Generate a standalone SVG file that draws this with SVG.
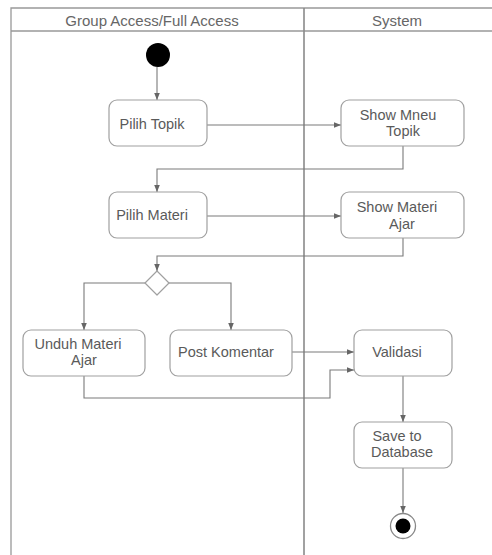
<svg xmlns="http://www.w3.org/2000/svg" width="492" height="555" viewBox="0 0 492 555">
  <defs>
    <marker id="arrow" viewBox="0 0 10 10" refX="10" refY="5" markerWidth="7" markerHeight="7" markerUnits="userSpaceOnUse" orient="auto">
      <path d="M0,1 L10,5 L0,9 Z" fill="#666"/>
    </marker>
    <style>
      .lane { fill: none; stroke: #999; stroke-width: 1.3; }
      .divider { stroke: #8a8a8a; stroke-width: 1.6; }
      .title { font-family: "Liberation Sans", Arial, sans-serif; font-size: 15px; fill: #666; text-anchor: middle; }
      .box { fill: #fff; stroke: #a0a0a0; stroke-width: 1.2; }
      .label { font-family: "Liberation Sans", Arial, sans-serif; font-size: 14.5px; fill: #5a5a5a; text-anchor: middle; }
      .flow { fill: none; stroke: #7a7a7a; stroke-width: 1.1; marker-end: url(#arrow); }
    </style>
  </defs>

  <rect width="492" height="555" fill="#fff"/>

  <!-- swimlane frame -->
  <g id="lanes">
    <path class="lane" d="M11,560 L11,8 L500,8"/>
    <line class="lane" x1="11" y1="31" x2="500" y2="31" stroke-width="2"/>
    <line class="divider" x1="304" y1="8" x2="304" y2="560"/>
    <text class="title" x="152" y="26">Group Access/Full Access</text>
    <text class="title" x="397" y="26">System</text>
  </g>

  <!-- connectors -->
  <g id="connectors">
    <path class="flow" d="M157,67 L157,100"/>
    <path class="flow" d="M207,125 L341,125"/>
    <path class="flow" d="M403,146 L403,169 L157,169 L157,192"/>
    <path class="flow" d="M207,216 L341,216"/>
    <path class="flow" d="M403,238 L403,256 L157,256 L157,271"/>
    <path class="flow" d="M146,283 L84,283 L84,330"/>
    <path class="flow" d="M168,283 L231,283 L231,330"/>
    <path class="flow" d="M292,352 L354,352"/>
    <path class="flow" d="M84,376 L84,398 L330,398 L330,370 L354,370"/>
    <path class="flow" d="M403,376 L403,422"/>
    <path class="flow" d="M403,468 L403,513"/>
  </g>

  <g id="start">
    <circle cx="158" cy="55" r="12" fill="#000"/>
  </g>

  <g id="pilih-topik">
    <rect class="box" x="109" y="100" width="98" height="46" rx="8"/>
    <text class="label" x="152" y="129">Pilih Topik</text>
  </g>

  <g id="show-menu-topik">
    <rect class="box" x="341" y="100" width="123" height="46" rx="8"/>
    <text class="label" x="398" y="120">Show Mneu</text>
    <text class="label" x="403" y="136">Topik</text>
  </g>

  <g id="pilih-materi">
    <rect class="box" x="109" y="192" width="98" height="46" rx="8"/>
    <text class="label" x="152" y="220">Pilih Materi</text>
  </g>

  <g id="show-materi-ajar">
    <rect class="box" x="341" y="192" width="123" height="46" rx="8"/>
    <text class="label" x="397" y="212">Show Materi</text>
    <text class="label" x="402" y="229">Ajar</text>
  </g>

  <g id="decision">
    <path class="box" d="M157,271 L169,283 L157,295 L145,283 Z" stroke-linejoin="round"/>
  </g>

  <g id="unduh-materi-ajar">
    <rect class="box" x="23" y="330" width="122" height="46" rx="8"/>
    <text class="label" x="78" y="349">Unduh Materi</text>
    <text class="label" x="84" y="365">Ajar</text>
  </g>

  <g id="post-komentar">
    <rect class="box" x="170" y="330" width="122" height="46" rx="8"/>
    <text class="label" x="226" y="357">Post Komentar</text>
  </g>

  <g id="validasi">
    <rect class="box" x="354" y="330" width="98" height="46" rx="8"/>
    <text class="label" x="397" y="357">Validasi</text>
  </g>

  <g id="save-to-database">
    <rect class="box" x="354" y="422" width="98" height="46" rx="8"/>
    <text class="label" x="397" y="441">Save to</text>
    <text class="label" x="402" y="457">Database</text>
  </g>

  <g id="end">
    <circle cx="403" cy="526" r="12.5" fill="#fff" stroke="#888" stroke-width="1.3"/>
    <circle cx="403" cy="526" r="7.5" fill="#000"/>
  </g>
</svg>
